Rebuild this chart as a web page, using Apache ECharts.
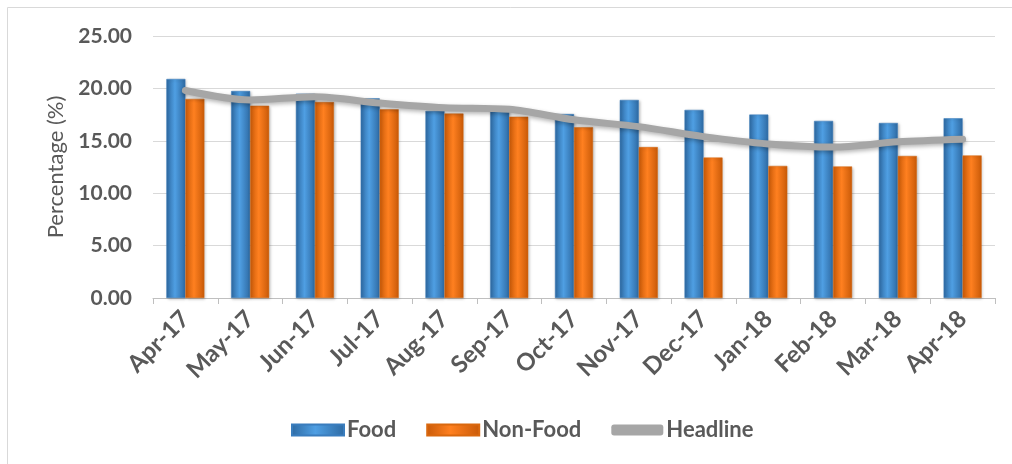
<!DOCTYPE html>
<html>
<head>
<meta charset="utf-8">
<script src="https://cdn.jsdelivr.net/npm/echarts@6/dist/echarts.min.js"></script>
<style>
  html, body { margin: 0; padding: 0; background: #fff; }
  #chart { width: 1012px; height: 464px; }
</style>
</head>
<body>
<div id="chart"></div>
<script>
var months = ['Apr-17', 'May-17', 'Jun-17', 'Jul-17', 'Aug-17', 'Sep-17', 'Oct-17',
              'Nov-17', 'Dec-17', 'Jan-18', 'Feb-18', 'Mar-18', 'Apr-18'];
var food = [20.9, 19.75, 19.5, 19.05, 17.85, 18.25, 17.55, 18.9, 17.95, 17.5, 16.9, 16.7, 17.15];
var nonFood = [19.0, 18.35, 18.7, 18.0, 17.6, 17.3, 16.3, 14.4, 13.4, 12.6, 12.55, 13.55, 13.6];
var headline = [19.8, 18.9, 19.2, 18.6, 18.15, 18.0, 17.0, 16.35, 15.4, 14.7, 14.4, 14.9, 15.15];
var yTicks = [0, 5, 10, 15, 20, 25];

var fontName = 'Lato, "DejaVu Sans", sans-serif';
var textGray = '#595959';

function hGrad(edge, mid) {
    return new echarts.graphic.LinearGradient(0, 0, 1, 0, [
        {offset: 0, color: edge},
        {offset: 0.45, color: mid},
        {offset: 1, color: edge}
    ]);
}

var myChart = echarts.init(document.getElementById('chart'));
myChart.setOption({
    animation: false,
    textStyle: {fontFamily: fontName, color: textGray},
    graphic: [{
        type: 'rect',
        shape: {x: 7.5, y: 7.5, width: 1020, height: 470},
        style: {fill: 'none', stroke: '#d9d9d9', lineWidth: 1},
        silent: true
    }],
    grid: {left: 153, right: 17, top: 36, bottom: 166},
    legend: {
        bottom: 18,
        left: 286,
        itemWidth: 52,
        itemHeight: 11,
        itemGap: 30,
        textStyle: {fontSize: 22, fontWeight: 'bold', color: textGray, fontFamily: fontName, padding: [0, 0, 0, -2]},
        data: [
            {name: 'Food', icon: 'rect'},
            {name: 'Non-Food', icon: 'rect'},
            {name: 'Headline', icon: 'roundRect', itemStyle: {color: '#a6a6a6'}}
        ]
    },
    xAxis: {
        type: 'category',
        data: months,
        axisLine: {lineStyle: {color: '#bfbfbf', width: 1}},
        axisTick: {show: true, length: 6, lineStyle: {color: '#bfbfbf'}},
        axisLabel: {
            rotate: 45,
            fontSize: 24,
            fontWeight: 'bold',
            color: textGray,
            margin: 17,
            interval: 0
        }
    },
    yAxis: {
        type: 'value',
        min: 0,
        max: yTicks[yTicks.length - 1],
        interval: yTicks[1] - yTicks[0],
        name: 'Percentage (%)',
        nameLocation: 'middle',
        nameGap: 85,
        nameRotate: 90,
        nameTextStyle: {fontSize: 22, color: textGray, fontFamily: fontName},
        axisLine: {show: false},
        axisTick: {show: false},
        axisLabel: {
            fontSize: 21,
            fontWeight: 'bold',
            color: textGray,
            margin: 21,
            formatter: function (v) { return v.toFixed(2); }
        },
        splitLine: {lineStyle: {color: '#d9d9d9', width: 1}}
    },
    series: [
        {
            name: 'Food',
            type: 'bar',
            data: food,
            barWidth: 19,
            barGap: '0%',
            itemStyle: {
                color: hGrad('#2e6aa3', '#4f9fe3'),
                borderColor: '#3a7dbd',
                borderWidth: 0.5,
                shadowColor: 'rgba(0,0,0,0.25)',
                shadowBlur: 3,
                shadowOffsetX: 1,
                shadowOffsetY: 1
            }
        },
        {
            name: 'Non-Food',
            type: 'bar',
            data: nonFood,
            barWidth: 19,
            itemStyle: {
                color: hGrad('#c95a08', '#ff8020'),
                borderColor: '#d9680f',
                borderWidth: 0.5,
                shadowColor: 'rgba(0,0,0,0.25)',
                shadowBlur: 3,
                shadowOffsetX: 1,
                shadowOffsetY: 1
            }
        },
        {
            name: 'Headline',
            type: 'line',
            data: headline,
            smooth: 0.3,
            symbol: 'none',
            color: '#a6a6a6',
            lineStyle: {
                color: '#a6a6a6',
                width: 7,
                cap: 'round',
                shadowColor: 'rgba(0,0,0,0.3)',
                shadowBlur: 4,
                shadowOffsetY: 2
            },
            z: 5
        }
    ]
});
</script>
</body>
</html>
